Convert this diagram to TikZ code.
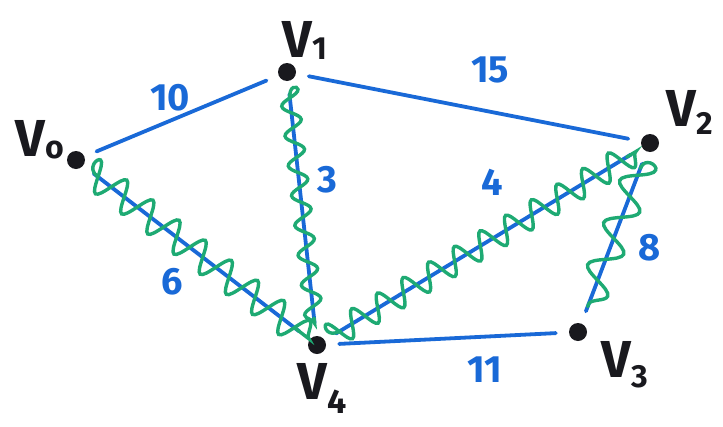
\documentclass[tikz,border=0pt]{standalone}
\usepackage{fontspec}
\setmainfont{Fira Sans}
\usetikzlibrary{decorations.pathmorphing}
\definecolor{penblue}{RGB}{25,105,215}
\definecolor{pengreen}{RGB}{30,170,115}
\definecolor{penblack}{RGB}{25,25,30}
\tikzset{
  vert/.style={circle,fill=penblack,inner sep=0pt,minimum size=18pt},
  vlabel/.style={text=penblack,font=\fontsize{52}{52}\selectfont\bfseries,inner sep=0pt},
  wlabel/.style={text=penblue,font=\fontsize{38}{38}\selectfont\bfseries,inner sep=0pt},
  edge/.style={draw=penblue,line width=3.8pt,line cap=round,shorten >=13pt,shorten <=13pt},
  mst/.style={draw=pengreen,line width=3.4pt,line cap=round,decorate,shorten >=18pt,shorten <=18pt}
}
\begin{document}
\begin{tikzpicture}[x=1pt,y=-1pt]
\useasboundingbox[fill=white] (0,0) rectangle (723,426);
\node[vert] (v0) at (76,160) {};
\node[vert] (v1) at (287,72) {};
\node[vert] (v2) at (650,143) {};
\node[vert] (v3) at (578,332) {};
\node[vert] (v4) at (317,345) {};
% labels
\node[vlabel] (l0) at (40,140) {V\raisebox{-2pt}{\fontsize{32}{32}\selectfont o}};
\node[vlabel] (l1) at (305,40) {V\raisebox{-2pt}{\fontsize{32}{32}\selectfont 1}};
\node[vlabel] (l2) at (690,112) {V\raisebox{-8pt}{\fontsize{32}{32}\selectfont 2}};
\node[vlabel] (l3) at (625,365) {V\raisebox{-10pt}{\fontsize{32}{32}\selectfont 3}};
\node[vlabel] (l4) at (322,388) {V\raisebox{-14pt}{\fontsize{34}{34}\selectfont 4}};
% blue edges
\draw[edge] (v0) -- (v1);
\draw[edge] (v1) -- (v2);
\draw[edge] (v0) -- (v4);
\draw[edge] (v1) -- (v4);
\draw[edge] (v4) -- (v2);
\draw[edge] (v2) -- (v3);
\draw[edge] (v4) -- (v3);
% green MST snakes
\draw[mst,decoration={snake,amplitude=15pt,segment length=33pt}] (v0) -- (v4);
\draw[mst,decoration={snake,amplitude=9pt,segment length=30pt}] (v1) -- (v4);
\draw[mst,decoration={snake,amplitude=13pt,segment length=30pt}] (v4) -- (v2);
\draw[mst,decoration={snake,amplitude=15pt,segment length=45pt}] (v2) -- (v3);
% weights
\node[wlabel] (w01) at (170,98) {10};
\node[wlabel] (w12) at (490,70) {15};
\node[wlabel] (w04) at (172,282) {6};
\node[wlabel] (w14) at (327,180) {3};
\node[wlabel] (w42) at (492,182) {4};
\node[wlabel] (w23) at (650,248) {8};
\node[wlabel] (w43) at (485,370) {11};
\end{tikzpicture}
\end{document}
